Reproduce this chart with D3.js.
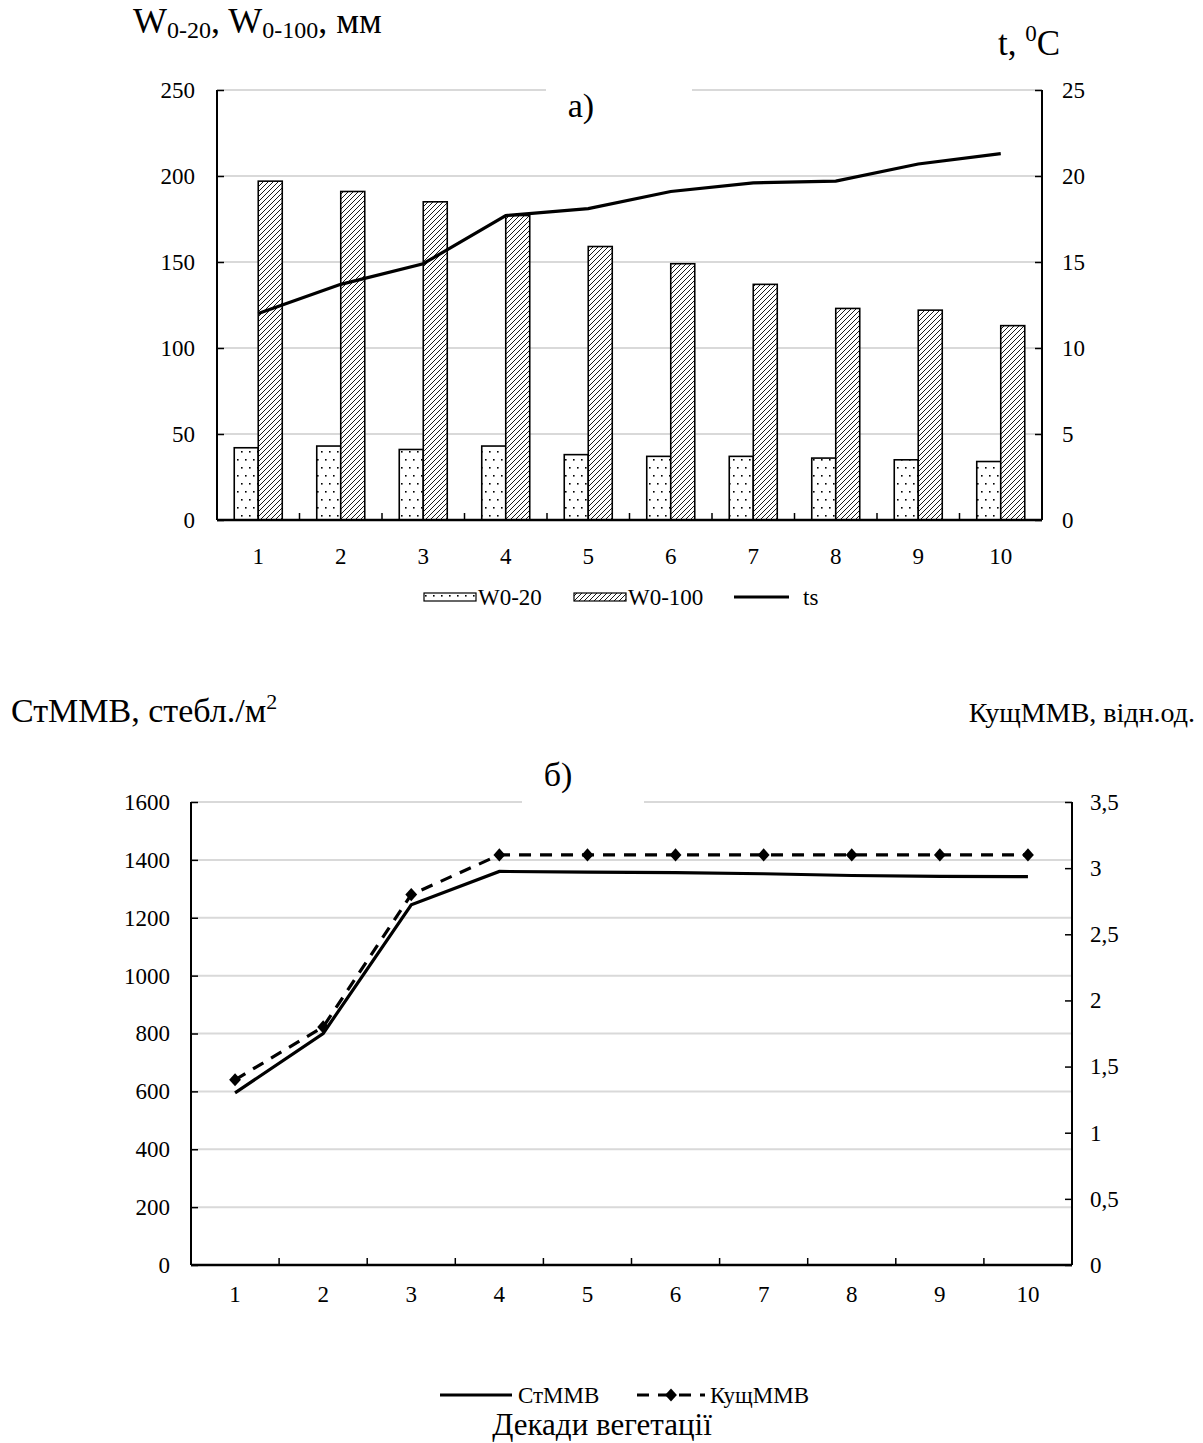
<!DOCTYPE html>
<html><head><meta charset="utf-8">
<script src="https://cdn.jsdelivr.net/npm/d3@7"></script>
<style>body{margin:0;background:#fff} svg, svg text{font-family:'Liberation Serif','Times New Roman','DejaVu Serif',serif !important}</style>
</head><body>
<script>
const decades = ["1","2","3","4","5","6","7","8","9","10"];
const w020 = [42,43,41,43,38,37,37,36,35,34];
const w0100 = [197,191,185,177,159,149,137,123,122,113];
const ts = [12.0,13.7,14.9,17.7,18.1,19.1,19.6,19.7,20.7,21.3];
const stmmv = [595,800,1245,1360,1358,1356,1352,1346,1343,1342];
const kushmmv = [1.4,1.8,2.8,3.1,3.1,3.1,3.1,3.1,3.1,3.1];
const leftTicksA = [0,50,100,150,200,250];
const rightTicksA = [0,5,10,15,20,25];
const leftTicksB = [0,200,400,600,800,1000,1200,1400,1600];
const rightTicksB = [0,0.5,1,1.5,2,2.5,3,3.5];

const FONT="'Liberation Serif','Times New Roman','DejaVu Serif',serif";
const TF=23;
const W=1203,H=1443;
const svg=d3.select("body").append("svg").attr("width",W).attr("height",H).style("font-family",FONT);
const defs=svg.append("defs");
const pd=defs.append("pattern").attr("id","dots").attr("patternUnits","userSpaceOnUse").attr("width",8).attr("height",16);
pd.append("rect").attr("width",8).attr("height",16).attr("fill","#fff");
pd.append("rect").attr("x",1).attr("y",3).attr("width",1.6).attr("height",1.6).attr("fill","#000");
pd.append("rect").attr("x",5).attr("y",11).attr("width",1.6).attr("height",1.6).attr("fill","#000");
const ph=defs.append("pattern").attr("id","hatch").attr("patternUnits","userSpaceOnUse").attr("width",5).attr("height",5);
ph.append("rect").attr("width",5).attr("height",5).attr("fill","#fff");
ph.append("path").attr("d","M-1,1 l2,-2 M0,5 l5,-5 M4,6 l2,-2").attr("stroke","#000").attr("stroke-width",0.9);

const fmt = v => String(v).replace(".",",");
function T(sel){ return sel.style("font-family",FONT); }

function frame(g,x0,x1,yTop,y0,yL,lt,gap){
  g.append("g").selectAll("line").data(lt.slice(1)).join("line")
    .attr("x1",x0).attr("x2",x1).attr("y1",d=>yL(d)).attr("y2",d=>yL(d))
    .attr("stroke","#d9d9d9").attr("stroke-width",2);
  g.append("rect").attr("x",gap[0]).attr("y",yTop-6).attr("width",gap[1]-gap[0]).attr("height",12).attr("fill","#fff");
}

function axes(g,x0,x1,yTop,y0,yL,yR,lt,rt,band,rfmt,lpad,rpad,xdy){
  const la=d3.axisLeft(yL).tickValues(lt).tickSize(-7).tickPadding(lpad).tickFormat(d=>d);
  const lg=g.append("g").attr("transform",`translate(${x0},0)`).call(la);
  lg.select(".domain").remove();
  g.append("line").attr("x1",x0).attr("x2",x0).attr("y1",yTop).attr("y2",y0).attr("stroke","#000").attr("stroke-width",2);
  const ra=d3.axisRight(yR).tickValues(rt).tickSize(-7).tickPadding(rpad).tickFormat(rfmt);
  const rg=g.append("g").attr("transform",`translate(${x1},0)`).call(ra);
  rg.select(".domain").remove();
  g.append("line").attr("x1",x1).attr("x2",x1).attr("y1",yTop).attr("y2",y0).attr("stroke","#000").attr("stroke-width",2);
  [lg,rg].forEach(a=>{a.attr("font-family",null).style("font-family",FONT);
    a.selectAll(".tick line").attr("stroke","#000").attr("stroke-width",1.5);
    T(a.selectAll("text")).attr("font-size",TF).attr("fill","#000");});
  g.append("line").attr("x1",x0).attr("x2",x1).attr("y1",y0).attr("y2",y0).attr("stroke","#000").attr("stroke-width",2.5);
  g.append("g").selectAll("line").data(decades.slice(1)).join("line")
    .attr("x1",d=>band(d)).attr("x2",d=>band(d)).attr("y1",y0).attr("y2",y0-7).attr("stroke","#000").attr("stroke-width",1.5);
  T(g.append("g").selectAll("text").data(decades).join("text"))
    .attr("x",d=>band(d)+band.bandwidth()/2).attr("y",y0+xdy).attr("text-anchor","middle")
    .attr("font-size",TF).text(d=>d);
}

// ---------- Chart a ----------
{
  const x0=217,x1=1042,yTop=90,y0=520;
  const g=svg.append("g");
  const band=d3.scaleBand().domain(decades).range([x0,x1]);
  const yL=d3.scaleLinear().domain([0,250]).range([y0,yTop]);
  const yR=d3.scaleLinear().domain([0,25]).range([y0,yTop]);
  frame(g,x0,x1,yTop,y0,yL,leftTicksA,[546,692]);
  const sub=d3.scaleBand().domain(["a","b"]).range([0,48]);
  const off=(band.bandwidth()-48)/2;
  g.append("g").selectAll("rect").data(w020).join("rect")
    .attr("x",(d,i)=>band(decades[i])+off+sub("a")).attr("width",sub.bandwidth())
    .attr("y",d=>yL(d)).attr("height",d=>y0-yL(d))
    .attr("fill","url(#dots)").attr("stroke","#000").attr("stroke-width",1.6);
  g.append("g").selectAll("rect").data(w0100).join("rect")
    .attr("x",(d,i)=>band(decades[i])+off+sub("b")).attr("width",sub.bandwidth())
    .attr("y",d=>yL(d)).attr("height",d=>y0-yL(d))
    .attr("fill","url(#hatch)").attr("stroke","#000").attr("stroke-width",1.6);
  const line=d3.line().x((d,i)=>band(decades[i])+band.bandwidth()/2).y(d=>yR(d));
  g.append("path").datum(ts).attr("d",line).attr("fill","none").attr("stroke","#000").attr("stroke-width",3.2);
  axes(g,x0,x1,yTop,y0,yL,yR,leftTicksA,rightTicksA,band,d=>d,22,20,44);
  T(g.append("text")).attr("x",581).attr("y",117).attr("text-anchor","middle").attr("font-size",34).text("а)");
  const t1=T(g.append("text")).attr("x",133).attr("y",33).attr("font-size",36);
  t1.append("tspan").text("W");
  t1.append("tspan").attr("font-size",24).attr("dy",5).text("0-20");
  t1.append("tspan").attr("dy",-5).text(", W");
  t1.append("tspan").attr("font-size",24).attr("dy",5).text("0-100");
  t1.append("tspan").attr("dy",-5).text(", мм");
  const t2=T(g.append("text")).attr("x",998).attr("y",55).attr("font-size",35);
  t2.append("tspan").text("t, ");
  t2.append("tspan").attr("font-size",23).attr("dy",-14).text("0");
  t2.append("tspan").attr("dy",14).text("C");
  const lgd=g.append("g");
  lgd.append("rect").attr("x",424).attr("y",593).attr("width",52).attr("height",8).attr("fill","url(#dots)").attr("stroke","#000").attr("stroke-width",1.2);
  T(lgd.append("text")).attr("x",478).attr("y",605).attr("font-size",TF).text("W0-20");
  lgd.append("rect").attr("x",574).attr("y",593).attr("width",52).attr("height",8).attr("fill","url(#hatch)").attr("stroke","#000").attr("stroke-width",1.2);
  T(lgd.append("text")).attr("x",628).attr("y",605).attr("font-size",TF).text("W0-100");
  lgd.append("line").attr("x1",734).attr("x2",789).attr("y1",597).attr("y2",597).attr("stroke","#000").attr("stroke-width",3.2);
  T(lgd.append("text")).attr("x",803).attr("y",605).attr("font-size",TF).text("ts");
}

// ---------- Chart б ----------
{
  const x0=191,x1=1072,yTop=802,y0=1265;
  const g=svg.append("g");
  const band=d3.scaleBand().domain(decades).range([x0,x1]);
  const yL=d3.scaleLinear().domain([0,1600]).range([y0,yTop]);
  const yR=d3.scaleLinear().domain([0,3.5]).range([y0,yTop]);
  frame(g,x0,x1,yTop,y0,yL,leftTicksB,[522,644]);
  const cx=(d,i)=>band(decades[i])+band.bandwidth()/2;
  g.append("path").datum(stmmv).attr("d",d3.line().x(cx).y(d=>yL(d))).attr("fill","none").attr("stroke","#000").attr("stroke-width",3.2);
  g.append("path").datum(kushmmv).attr("d",d3.line().x(cx).y(d=>yR(d))).attr("fill","none").attr("stroke","#000").attr("stroke-width",3.2).attr("stroke-dasharray","12,9");
  const sym=d3.symbol().type(d3.symbolDiamond2).size(110);
  g.append("g").selectAll("path").data(kushmmv).join("path")
    .attr("transform",(d,i)=>`translate(${cx(d,i)},${yR(d)}) scale(0.9,1)`).attr("d",sym()).attr("fill","#000");
  axes(g,x0,x1,yTop,y0,yL,yR,leftTicksB,rightTicksB,band,fmt,21,18,37);
  T(g.append("text")).attr("x",558).attr("y",786).attr("text-anchor","middle").attr("font-size",34).text("б)");
  const t1=T(g.append("text")).attr("x",11).attr("y",722).attr("font-size",34);
  t1.append("tspan").text("СтММВ, стебл./м");
  t1.append("tspan").attr("font-size",22).attr("dy",-13).text("2");
  T(g.append("text")).attr("x",1195).attr("y",722).attr("text-anchor","end").attr("font-size",28).text("КущММВ, відн.од.");
  const lgd=g.append("g");
  lgd.append("line").attr("x1",440).attr("x2",512).attr("y1",1395).attr("y2",1395).attr("stroke","#000").attr("stroke-width",3.2);
  T(lgd.append("text")).attr("x",518).attr("y",1403).attr("font-size",TF).text("СтММВ");
  lgd.append("line").attr("x1",637).attr("x2",705).attr("y1",1395).attr("y2",1395).attr("stroke","#000").attr("stroke-width",3.2).attr("stroke-dasharray","12,9");
  lgd.append("path").attr("transform","translate(671,1395) scale(0.9,1)").attr("d",sym()).attr("fill","#000");
  T(lgd.append("text")).attr("x",710).attr("y",1403).attr("font-size",TF).text("КущММВ");
  T(svg.append("text")).attr("x",602).attr("y",1435).attr("text-anchor","middle").attr("font-size",31).text("Декади вегетації");
}
</script>
</body></html>
